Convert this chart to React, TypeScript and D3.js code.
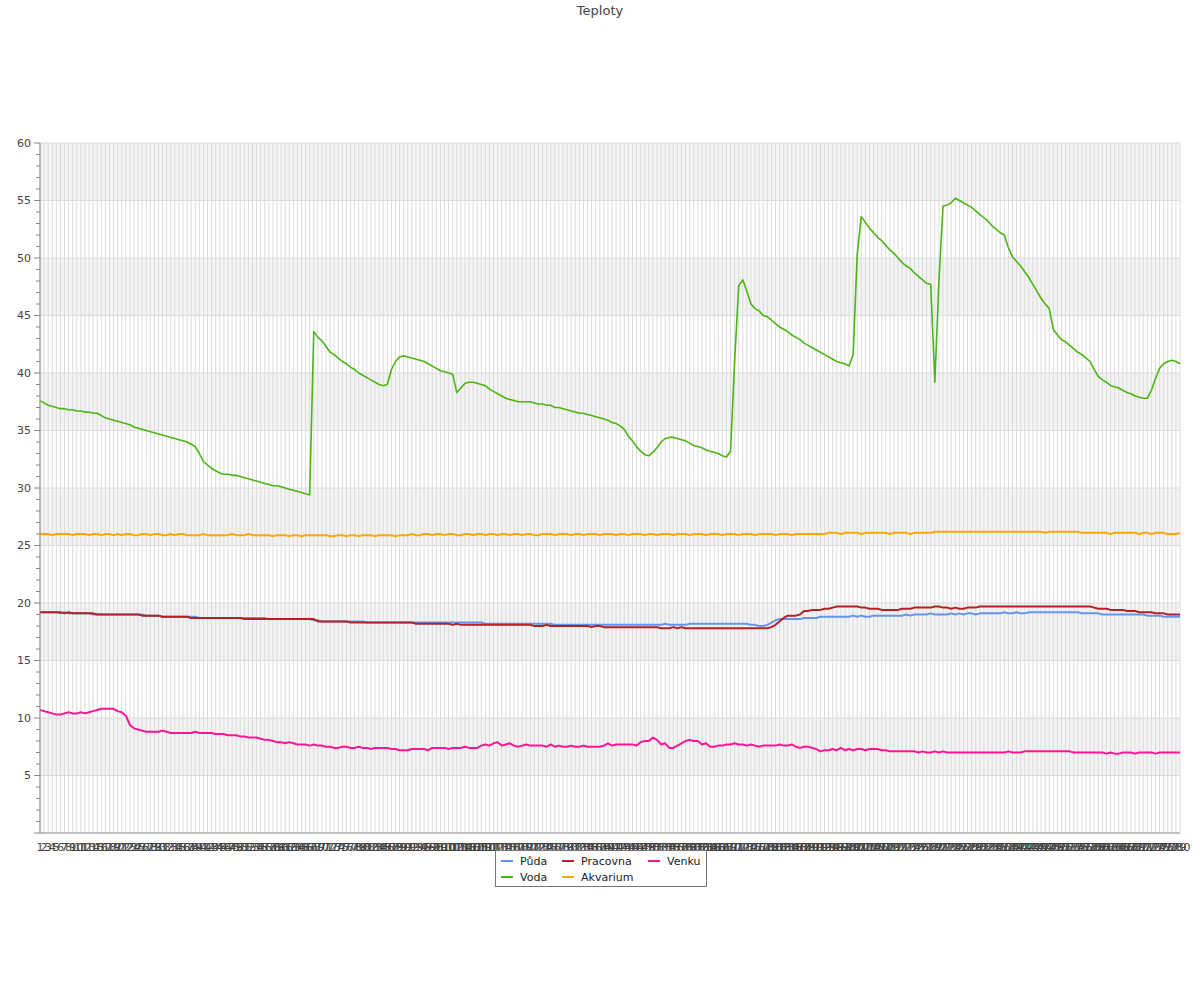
import * as d3 from "d3";

// Teploty – teplotní čidla, 280 měření
const voda = [
  37.6, 37.4, 37.2, 37.1, 37.0, 36.9, 36.9, 36.8, 36.8, 36.7,
  36.7, 36.6, 36.6, 36.5, 36.5, 36.3, 36.1, 36.0, 35.9, 35.8,
  35.7, 35.6, 35.5, 35.3, 35.2, 35.1, 35.0, 34.9, 34.8, 34.7,
  34.6, 34.5, 34.4, 34.3, 34.2, 34.1, 34.0, 33.8, 33.6, 33.0,
  32.3, 32.0, 31.7, 31.5, 31.3, 31.2, 31.2, 31.1, 31.1, 31.0,
  30.9, 30.8, 30.7, 30.6, 30.5, 30.4, 30.3, 30.2, 30.2, 30.1,
  30.0, 29.9, 29.8, 29.7, 29.6, 29.5, 29.4, 43.6, 43.1, 42.8,
  42.3, 41.8, 41.6, 41.3, 41.0, 40.8, 40.5, 40.3, 40.0, 39.8,
  39.6, 39.4, 39.2, 39.0, 38.9, 39.0, 40.3, 41.0, 41.4, 41.5,
  41.4, 41.3, 41.2, 41.1, 41.0, 40.8, 40.6, 40.4, 40.2, 40.1,
  40.0, 39.9, 38.3, 38.7, 39.1, 39.2, 39.2, 39.1, 39.0, 38.9,
  38.6, 38.4, 38.2, 38.0, 37.8, 37.7, 37.6, 37.5, 37.5, 37.5,
  37.5, 37.4, 37.3, 37.3, 37.2, 37.2, 37.0, 37.0, 36.9, 36.8,
  36.7, 36.6, 36.5, 36.5, 36.4, 36.3, 36.2, 36.1, 36.0, 35.9,
  35.7, 35.6, 35.4, 35.1, 34.5, 34.1, 33.6, 33.2, 32.9, 32.8,
  33.1, 33.5, 34.0, 34.3, 34.4, 34.4, 34.3, 34.2, 34.1, 33.9,
  33.7, 33.6, 33.5, 33.3, 33.2, 33.1, 33.0, 32.8, 32.7, 33.2,
  41.0, 47.6, 48.1, 47.1, 46.0, 45.6, 45.4, 45.0, 44.9, 44.6,
  44.3, 44.0, 43.8, 43.6, 43.3, 43.1, 42.9, 42.6, 42.4, 42.2,
  42.0, 41.8, 41.6, 41.4, 41.2, 41.0, 40.9, 40.8, 40.6, 41.6,
  50.3, 53.6, 53.1, 52.6, 52.2, 51.8, 51.5, 51.1, 50.7, 50.4,
  50.0, 49.6, 49.3, 49.1, 48.7, 48.4, 48.1, 47.8, 47.7, 39.2,
  48.0, 54.5, 54.6, 54.8, 55.2, 55.0, 54.8, 54.6, 54.4, 54.1,
  53.8, 53.5, 53.2, 52.8, 52.5, 52.2, 52.0, 50.9, 50.1, 49.7,
  49.3, 48.8, 48.3, 47.7, 47.1, 46.5, 46.0, 45.6, 43.8, 43.3,
  42.9, 42.7, 42.4, 42.1, 41.8, 41.6, 41.3, 41.0, 40.3, 39.7,
  39.4, 39.2, 38.9, 38.8, 38.7, 38.5, 38.3, 38.2, 38.0, 37.9,
  37.8, 37.8, 38.5, 39.5, 40.4, 40.8, 41.0, 41.1, 41.0, 40.8,
];

const akvarium = [
  26.0, 26.0, 26.0, 25.9, 26.0, 26.0, 26.0, 26.0, 25.9, 26.0,
  26.0, 26.0, 25.9, 26.0, 26.0, 25.9, 26.0, 26.0, 25.9, 26.0,
  25.9, 26.0, 26.0, 25.9, 25.9, 26.0, 26.0, 25.9, 26.0, 26.0,
  25.9, 25.9, 26.0, 25.9, 26.0, 26.0, 25.9, 25.9, 25.9, 25.9,
  26.0, 25.9, 25.9, 25.9, 25.9, 25.9, 25.9, 26.0, 25.9, 25.9,
  25.9, 26.0, 25.9, 25.9, 25.9, 25.9, 25.9, 25.8, 25.9, 25.9,
  25.9, 25.8, 25.9, 25.9, 25.8, 25.9, 25.9, 25.9, 25.9, 25.9,
  25.9, 25.8, 25.8, 25.9, 25.9, 25.8, 25.9, 25.9, 25.8, 25.9,
  25.9, 25.9, 25.8, 25.9, 25.9, 25.9, 25.9, 25.8, 25.9, 25.9,
  25.9, 26.0, 25.9, 25.9, 26.0, 26.0, 25.9, 26.0, 26.0, 25.9,
  26.0, 26.0, 25.9, 25.9, 26.0, 26.0, 25.9, 26.0, 26.0, 25.9,
  26.0, 26.0, 25.9, 26.0, 26.0, 25.9, 26.0, 26.0, 25.9, 26.0,
  26.0, 25.9, 25.9, 26.0, 26.0, 26.0, 25.9, 26.0, 26.0, 26.0,
  25.9, 26.0, 26.0, 25.9, 26.0, 26.0, 26.0, 25.9, 26.0, 26.0,
  26.0, 25.9, 26.0, 26.0, 25.9, 26.0, 26.0, 26.0, 25.9, 26.0,
  26.0, 25.9, 26.0, 26.0, 26.0, 25.9, 26.0, 26.0, 26.0, 25.9,
  26.0, 26.0, 26.0, 25.9, 26.0, 26.0, 26.0, 25.9, 26.0, 26.0,
  26.0, 25.9, 26.0, 26.0, 26.0, 25.9, 26.0, 26.0, 26.0, 26.0,
  25.9, 26.0, 26.0, 26.0, 25.9, 26.0, 26.0, 26.0, 26.0, 26.0,
  26.0, 26.0, 26.0, 26.1, 26.1, 26.1, 26.0, 26.1, 26.1, 26.1,
  26.1, 26.0, 26.1, 26.1, 26.1, 26.1, 26.1, 26.1, 26.0, 26.1,
  26.1, 26.1, 26.1, 26.0, 26.1, 26.1, 26.1, 26.1, 26.1, 26.2,
  26.2, 26.2, 26.2, 26.2, 26.2, 26.2, 26.2, 26.2, 26.2, 26.2,
  26.2, 26.2, 26.2, 26.2, 26.2, 26.2, 26.2, 26.2, 26.2, 26.2,
  26.2, 26.2, 26.2, 26.2, 26.2, 26.2, 26.1, 26.2, 26.2, 26.2,
  26.2, 26.2, 26.2, 26.2, 26.2, 26.1, 26.1, 26.1, 26.1, 26.1,
  26.1, 26.1, 26.0, 26.1, 26.1, 26.1, 26.1, 26.1, 26.1, 26.0,
  26.1, 26.1, 26.0, 26.1, 26.1, 26.1, 26.0, 26.0, 26.0, 26.1,
];

const pracovna = [
  19.2, 19.2, 19.2, 19.2, 19.2, 19.2, 19.1, 19.2, 19.1, 19.1,
  19.1, 19.1, 19.1, 19.1, 19.0, 19.0, 19.0, 19.0, 19.0, 19.0,
  19.0, 19.0, 19.0, 19.0, 19.0, 18.9, 18.9, 18.9, 18.9, 18.9,
  18.8, 18.8, 18.8, 18.8, 18.8, 18.8, 18.8, 18.7, 18.7, 18.7,
  18.7, 18.7, 18.7, 18.7, 18.7, 18.7, 18.7, 18.7, 18.7, 18.7,
  18.6, 18.6, 18.6, 18.6, 18.6, 18.6, 18.6, 18.6, 18.6, 18.6,
  18.6, 18.6, 18.6, 18.6, 18.6, 18.6, 18.6, 18.6, 18.4, 18.4,
  18.4, 18.4, 18.4, 18.4, 18.4, 18.4, 18.3, 18.3, 18.3, 18.3,
  18.3, 18.3, 18.3, 18.3, 18.3, 18.3, 18.3, 18.3, 18.3, 18.3,
  18.3, 18.3, 18.2, 18.2, 18.2, 18.2, 18.2, 18.2, 18.2, 18.2,
  18.2, 18.1, 18.2, 18.1, 18.1, 18.1, 18.1, 18.1, 18.1, 18.1,
  18.1, 18.1, 18.1, 18.1, 18.1, 18.1, 18.1, 18.1, 18.1, 18.1,
  18.1, 18.0, 18.0, 18.0, 18.1, 18.0, 18.0, 18.0, 18.0, 18.0,
  18.0, 18.0, 18.0, 18.0, 18.0, 17.9, 18.0, 18.0, 17.9, 17.9,
  17.9, 17.9, 17.9, 17.9, 17.9, 17.9, 17.9, 17.9, 17.9, 17.9,
  17.9, 17.9, 17.8, 17.8, 17.8, 17.9, 17.8, 17.9, 17.8, 17.8,
  17.8, 17.8, 17.8, 17.8, 17.8, 17.8, 17.8, 17.8, 17.8, 17.8,
  17.8, 17.8, 17.8, 17.8, 17.8, 17.8, 17.8, 17.8, 17.8, 17.9,
  18.1, 18.4, 18.7, 18.9, 18.9, 18.9, 19.0, 19.3, 19.3, 19.4,
  19.4, 19.4, 19.5, 19.5, 19.6, 19.7, 19.7, 19.7, 19.7, 19.7,
  19.7, 19.6, 19.6, 19.5, 19.5, 19.5, 19.4, 19.4, 19.4, 19.4,
  19.4, 19.5, 19.5, 19.5, 19.6, 19.6, 19.6, 19.6, 19.6, 19.7,
  19.7, 19.6, 19.6, 19.5, 19.6, 19.5, 19.5, 19.6, 19.6, 19.6,
  19.7, 19.7, 19.7, 19.7, 19.7, 19.7, 19.7, 19.7, 19.7, 19.7,
  19.7, 19.7, 19.7, 19.7, 19.7, 19.7, 19.7, 19.7, 19.7, 19.7,
  19.7, 19.7, 19.7, 19.7, 19.7, 19.7, 19.7, 19.7, 19.6, 19.5,
  19.5, 19.5, 19.4, 19.4, 19.4, 19.4, 19.3, 19.3, 19.3, 19.2,
  19.2, 19.2, 19.2, 19.1, 19.1, 19.1, 19.0, 19.0, 19.0, 19.0,
];

const puda = [
  19.2, 19.2, 19.2, 19.2, 19.2, 19.1, 19.2, 19.1, 19.1, 19.1,
  19.1, 19.1, 19.1, 19.0, 19.0, 19.0, 19.0, 19.0, 19.0, 19.0,
  19.0, 19.0, 19.0, 19.0, 19.0, 19.0, 18.9, 18.9, 18.9, 18.9,
  18.8, 18.8, 18.8, 18.8, 18.8, 18.8, 18.8, 18.8, 18.8, 18.7,
  18.7, 18.7, 18.7, 18.7, 18.7, 18.7, 18.7, 18.7, 18.7, 18.7,
  18.7, 18.7, 18.7, 18.7, 18.7, 18.7, 18.6, 18.6, 18.6, 18.6,
  18.6, 18.6, 18.6, 18.6, 18.6, 18.6, 18.6, 18.5, 18.5, 18.4,
  18.4, 18.4, 18.4, 18.4, 18.4, 18.4, 18.4, 18.4, 18.4, 18.4,
  18.3, 18.3, 18.3, 18.3, 18.3, 18.3, 18.3, 18.3, 18.3, 18.3,
  18.3, 18.3, 18.3, 18.3, 18.3, 18.3, 18.3, 18.3, 18.3, 18.3,
  18.3, 18.3, 18.3, 18.3, 18.3, 18.3, 18.3, 18.3, 18.3, 18.2,
  18.2, 18.2, 18.2, 18.2, 18.2, 18.2, 18.2, 18.2, 18.2, 18.2,
  18.2, 18.2, 18.2, 18.2, 18.2, 18.2, 18.1, 18.1, 18.1, 18.1,
  18.1, 18.1, 18.1, 18.1, 18.1, 18.1, 18.1, 18.1, 18.1, 18.1,
  18.1, 18.1, 18.1, 18.1, 18.1, 18.1, 18.1, 18.1, 18.1, 18.1,
  18.1, 18.1, 18.1, 18.2, 18.1, 18.1, 18.1, 18.1, 18.1, 18.2,
  18.2, 18.2, 18.2, 18.2, 18.2, 18.2, 18.2, 18.2, 18.2, 18.2,
  18.2, 18.2, 18.2, 18.2, 18.1, 18.1, 18.0, 18.0, 18.1, 18.3,
  18.5, 18.6, 18.6, 18.6, 18.6, 18.6, 18.6, 18.7, 18.7, 18.7,
  18.7, 18.8, 18.8, 18.8, 18.8, 18.8, 18.8, 18.8, 18.8, 18.9,
  18.8, 18.9, 18.8, 18.8, 18.9, 18.9, 18.9, 18.9, 18.9, 18.9,
  18.9, 18.9, 19.0, 18.9, 19.0, 19.0, 19.0, 19.0, 19.1, 19.0,
  19.0, 19.0, 19.0, 19.1, 19.0, 19.1, 19.0, 19.1, 19.1, 19.0,
  19.1, 19.1, 19.1, 19.1, 19.1, 19.1, 19.2, 19.1, 19.1, 19.2,
  19.1, 19.1, 19.2, 19.2, 19.2, 19.2, 19.2, 19.2, 19.2, 19.2,
  19.2, 19.2, 19.2, 19.2, 19.2, 19.1, 19.1, 19.1, 19.1, 19.1,
  19.0, 19.0, 19.0, 19.0, 19.0, 19.0, 19.0, 19.0, 19.0, 19.0,
  19.0, 18.9, 18.9, 18.9, 18.9, 18.8, 18.8, 18.8, 18.8, 18.8,
];

const venku = [
  10.7, 10.6, 10.5, 10.4, 10.3, 10.3, 10.4, 10.5, 10.4, 10.4,
  10.5, 10.4, 10.5, 10.6, 10.7, 10.8, 10.8, 10.8, 10.8, 10.6,
  10.5, 10.2, 9.4, 9.1, 9.0, 8.9, 8.8, 8.8, 8.8, 8.8,
  8.9, 8.8, 8.7, 8.7, 8.7, 8.7, 8.7, 8.7, 8.8, 8.7,
  8.7, 8.7, 8.7, 8.6, 8.6, 8.6, 8.5, 8.5, 8.5, 8.4,
  8.4, 8.3, 8.3, 8.3, 8.2, 8.1, 8.1, 8.0, 7.9, 7.9,
  7.8, 7.9, 7.8, 7.7, 7.7, 7.7, 7.6, 7.7, 7.6, 7.6,
  7.5, 7.5, 7.4, 7.4, 7.5, 7.5, 7.4, 7.4, 7.5, 7.4,
  7.4, 7.3, 7.4, 7.4, 7.4, 7.4, 7.3, 7.3, 7.2, 7.2,
  7.2, 7.3, 7.3, 7.3, 7.3, 7.2, 7.4, 7.4, 7.4, 7.4,
  7.3, 7.4, 7.4, 7.4, 7.5, 7.4, 7.4, 7.4, 7.6, 7.7,
  7.6, 7.8, 7.9, 7.6, 7.7, 7.8, 7.6, 7.5, 7.6, 7.7,
  7.6, 7.6, 7.6, 7.6, 7.5, 7.7, 7.5, 7.6, 7.5, 7.5,
  7.6, 7.5, 7.5, 7.6, 7.5, 7.5, 7.5, 7.5, 7.6, 7.8,
  7.6, 7.7, 7.7, 7.7, 7.7, 7.7, 7.6, 7.9, 8.0, 8.0,
  8.3, 8.1, 7.7, 7.8, 7.4, 7.4, 7.6, 7.8, 8.0, 8.1,
  8.0, 8.0, 7.7, 7.8, 7.5, 7.5, 7.6, 7.6, 7.7, 7.7,
  7.8, 7.7, 7.7, 7.6, 7.7, 7.6, 7.5, 7.6, 7.6, 7.6,
  7.6, 7.7, 7.6, 7.6, 7.7, 7.5, 7.4, 7.5, 7.5, 7.4,
  7.3, 7.1, 7.2, 7.2, 7.3, 7.2, 7.4, 7.2, 7.3, 7.2,
  7.3, 7.3, 7.2, 7.3, 7.3, 7.3, 7.2, 7.2, 7.1, 7.1,
  7.1, 7.1, 7.1, 7.1, 7.1, 7.0, 7.1, 7.0, 7.0, 7.1,
  7.0, 7.1, 7.0, 7.0, 7.0, 7.0, 7.0, 7.0, 7.0, 7.0,
  7.0, 7.0, 7.0, 7.0, 7.0, 7.0, 7.0, 7.1, 7.0, 7.0,
  7.0, 7.1, 7.1, 7.1, 7.1, 7.1, 7.1, 7.1, 7.1, 7.1,
  7.1, 7.1, 7.1, 7.0, 7.0, 7.0, 7.0, 7.0, 7.0, 7.0,
  7.0, 6.9, 7.0, 6.9, 6.9, 7.0, 7.0, 7.0, 6.9, 7.0,
  7.0, 7.0, 7.0, 6.9, 7.0, 7.0, 7.0, 7.0, 7.0, 7.0,
];

// x labels are just the measurement number
const labels = voda.map((_, i) => String(i + 1));
const yTicks = [5, 10, 15, 20, 25, 30, 35, 40, 45, 50, 55, 60];
const bands: [number, number][] = [[5, 10], [15, 20], [25, 30], [35, 40], [45, 50], [55, 60]];

const series = [
  { name: "Půda", values: puda, color: "#6495ed" },
  { name: "Voda", values: voda, color: "#4cb512" },
  { name: "Pracovna", values: pracovna, color: "#b22222" },
  { name: "Akvarium", values: akvarium, color: "#ffa500" },
  { name: "Venku", values: venku, color: "#ff1493" },
];
// drawing order: Akvarium & Voda first, then the others on top
const drawOrder = ["Akvarium", "Voda", "Půda", "Pracovna", "Venku"];

const W = 1200;
const H = 1000;
const margin = { left: 40, right: 20, top: 143, bottom: 167 };
const font = "DejaVu Sans, sans-serif";

export default function App() {
  const innerW = W - margin.left - margin.right;
  const innerH = H - margin.top - margin.bottom;

  const x = d3.scalePoint<string>().domain(labels).range([0, innerW]);
  const y = d3.scaleLinear().domain([0, 60]).range([innerH, 0]);
  const minor = d3.range(1, 60).filter((v) => v % 5 !== 0);

  const line = d3
    .line<number>()
    .x((_, i) => x(labels[i]) as number)
    .y((d) => y(d));

  // legend: 3 columns, filled column by column (2 rows)
  const legendX = 495;
  const legendY = 850;
  const colX = [0, 61, 147];
  const rowH = 16;

  return (
    <svg
      width={W}
      height={H}
      style={{ position: "absolute", left: 0, top: 0 }}
      fontFamily={font}
    >
      <text x={W / 2} y={15} textAnchor="middle" fontSize={13} fill="#444">
        Teploty
      </text>
      <g transform={`translate(${margin.left},${margin.top})`}>
        {bands.map(([a, b]) => (
          <rect key={a} x={0} width={innerW} y={y(b)} height={y(a) - y(b)} fill="#f3f3f3" />
        ))}
        {labels.map((l) => (
          <line key={l} x1={x(l)} x2={x(l)} y1={0} y2={innerH} stroke="#dcdcdc" strokeWidth={1} />
        ))}
        {yTicks.map((t) => (
          <line key={t} x1={0} x2={innerW} y1={y(t)} y2={y(t)} stroke="#dcdcdc" strokeWidth={1} />
        ))}

        {drawOrder.map((n) => {
          const s = series.find((d) => d.name === n)!;
          return (
            <path
              key={n}
              d={line(s.values) ?? ""}
              fill="none"
              stroke={s.color}
              strokeWidth={n === "Voda" ? 1.6 : 2}
              strokeLinejoin="round"
            />
          );
        })}

        {/* y axis */}
        <line x1={0} x2={0} y1={0} y2={innerH} stroke="#888" />
        {yTicks.map((t) => (
          <g key={t} transform={`translate(0,${y(t)})`}>
            <line x1={-6} x2={0} stroke="#888" />
            <text x={-9} dy="0.35em" textAnchor="end" fontSize={11} fill="#444">
              {t}
            </text>
          </g>
        ))}
        {minor.map((t) => (
          <line key={t} x1={-4} x2={0} y1={y(t)} y2={y(t)} stroke="#888" />
        ))}

        {/* x axis */}
        <line x1={-6} x2={innerW} y1={innerH} y2={innerH} stroke="#888" />
        {labels.map((l) => (
          <text key={l} x={x(l)} y={innerH + 18} textAnchor="middle" fontSize={11} fill="#444">
            {l}
          </text>
        ))}
      </g>

      {/* legend */}
      <g transform={`translate(${legendX},${legendY})`}>
        <rect x={0.5} y={0.5} width={211} height={36} fill="#fff" stroke="#777" />
        {series.map((s, i) => {
          const cx = 6 + colX[Math.floor(i / 2)];
          const cy = 11 + (i % 2) * rowH;
          return (
            <g key={s.name} transform={`translate(${cx},${cy})`}>
              <line x1={0} x2={12} y1={0} y2={0} stroke={s.color} strokeWidth={2} />
              <text x={19} dy="0.35em" fontSize={11} fill="#222">
                {s.name}
              </text>
            </g>
          );
        })}
      </g>
    </svg>
  );
}
